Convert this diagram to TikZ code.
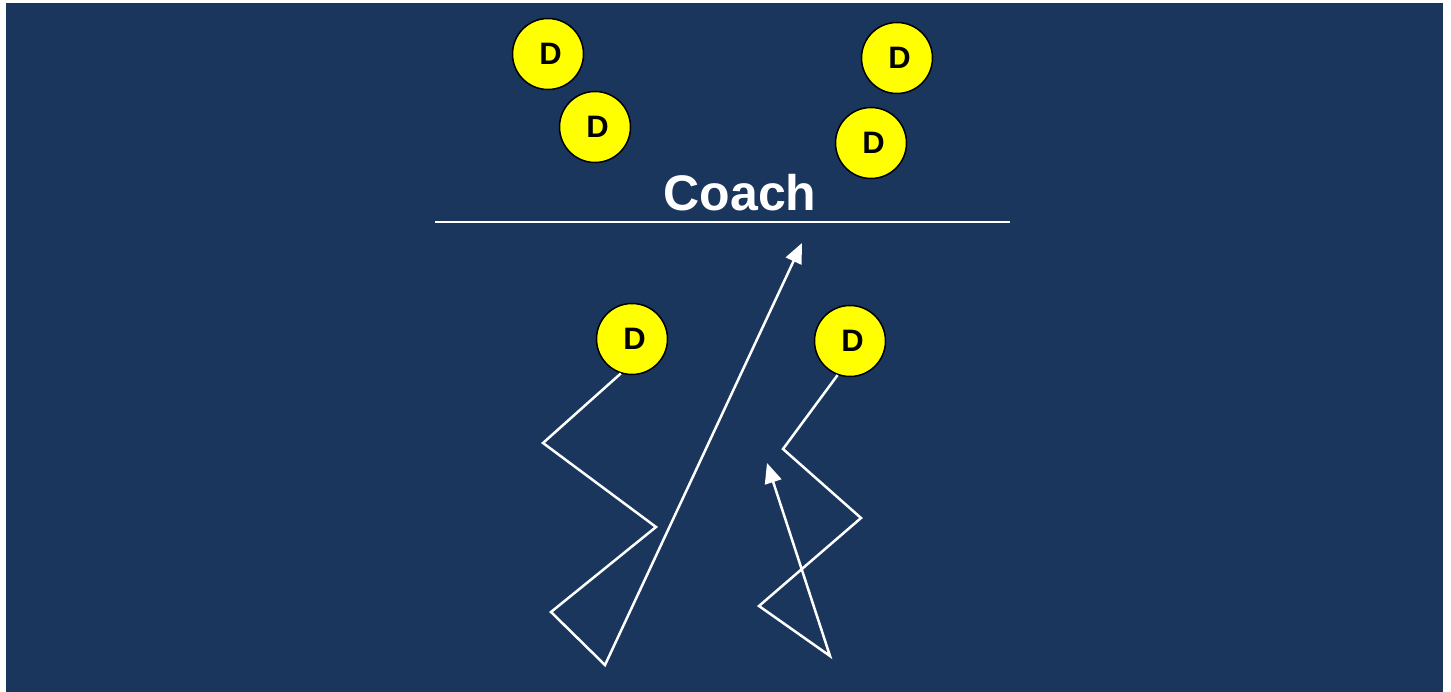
\documentclass[tikz,border=0pt]{standalone}
\usepackage{fontspec}
\setmainfont{Liberation Sans}
\usetikzlibrary{arrows.meta}
\definecolor{field}{HTML}{1A365D}
\definecolor{dyellow}{HTML}{FFFF00}
\tikzset{
  player/.style={circle, draw=black, line width=1.5pt, fill=dyellow, minimum size=71pt, inner sep=0pt, font=\fontsize{31}{31}\selectfont\bfseries, text=black, text depth=0pt, text height=22pt, yshift=-1pt},
  run/.style={draw=white, line width=2.5pt, line join=miter},
  runarrow/.style={run, -{Triangle[length=20pt, width=17pt]}}
}
\begin{document}
\begin{tikzpicture}[x=1pt,y=-1pt]
\useasboundingbox (0,0) rectangle (1451,692);
\fill[white] (0,0) rectangle (1451,692);
\fill[field] (6,3) rectangle (1443,692);
\node[player] (d1) at (548,53) {\hspace{5pt}D};
\node[player] (d2) at (595,126) {\hspace{5pt}D};
\node[player] (d3) at (897,57) {\hspace{5pt}D};
\node[player] (d4) at (871,142) {\hspace{5pt}D};
\node[player] (d5) at (632,338) {\hspace{5pt}D};
\node[player] (d6) at (850,340) {\hspace{5pt}D};
\node[text=white, font=\fontsize{50}{50}\selectfont\bfseries] (coach) at (740,193) {Coach};
\coordinate (l1) at (435,222);
\coordinate (l2) at (1010,222);
\draw[white, line width=2pt] (l1) -- (l2);
\coordinate (a1) at (543,443);
\coordinate (a2) at (656,527);
\coordinate (a3) at (551,612);
\coordinate (a4) at (605,665);
\coordinate (a5) at (802,243);
\draw[runarrow] (d5.252) -- (a1) -- (a2) -- (a3) -- (a4) -- (a5);
\coordinate (b1) at (783,449);
\coordinate (b2) at (861,518);
\coordinate (b3) at (759,606);
\coordinate (b4) at (830,656);
\coordinate (b5) at (767,463);
\draw[runarrow] (d6.250) -- (b1) -- (b2) -- (b3) -- (b4) -- (b5);
\end{tikzpicture}
\end{document}
